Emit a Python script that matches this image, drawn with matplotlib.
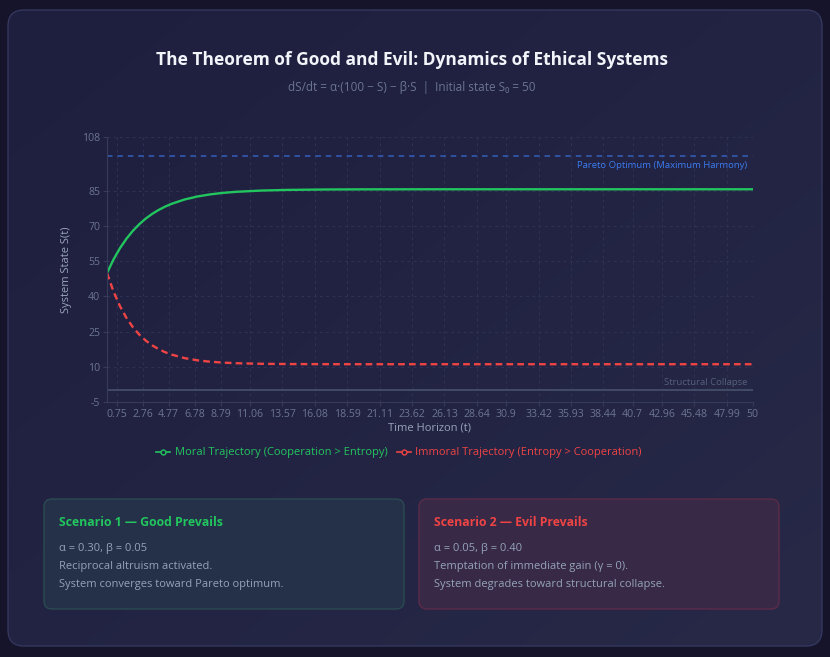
import matplotlib.pyplot as plt
import numpy as np
from matplotlib.patches import FancyBboxPatch
from matplotlib.lines import Line2D

# Valores (t, S(t))
tempo = [0, 0.5, 1, 1.5, 2, 2.5, 3, 3.5, 4, 4.5, 5, 6, 7, 8, 9, 10, 12, 14, 17, 20, 25, 30, 40, 50]
moral = [50.0, 55.73, 60.55, 64.58, 67.98, 70.82, 73.22, 75.22, 76.90, 78.32, 79.50, 81.34,
         82.63, 83.54, 84.18, 84.63, 85.17, 85.44, 85.62, 85.68, 85.71, 85.71, 85.71, 85.71]
imoral = [50.0, 42.16, 35.91, 30.91, 26.92, 23.74, 21.19, 19.16, 17.54, 16.24, 15.21, 13.72,
          12.78, 12.17, 11.79, 11.54, 11.29, 11.18, 11.13, 11.11, 11.11, 11.11, 11.11, 11.11]

x_ticks = [0.75, 2.76, 4.77, 6.78, 8.79, 11.06, 13.57, 16.08, 18.59, 21.11, 23.62, 26.13,
           28.64, 30.9, 33.42, 35.93, 38.44, 40.7, 42.96, 45.48, 47.99, 50]
y_ticks = [-5, 10, 25, 40, 55, 70, 85, 108]
pareto = 100
colapso = 0

W, H = 830, 657
plt.rcParams['font.family'] = ['Open Sans', 'DejaVu Sans']
plt.rcParams['lines.scale_dashes'] = False
plt.rcParams['axes.unicode_minus'] = False

fig = plt.figure(figsize=(W / 100, H / 100), dpi=100)
fig.patch.set_facecolor('#15142b')

# fundo em coordenadas de pixel
bg = fig.add_axes([0, 0, 1, 1], zorder=0)
bg.set_xlim(0, W)
bg.set_ylim(H, 0)
bg.axis('off')

card = FancyBboxPatch((8, 10), 814, 636, boxstyle='round,pad=0,rounding_size=16',
                      facecolor='none', edgecolor='#34375c', lw=1.0, zorder=2)
bg.add_patch(card)
grad = np.linspace(0, 1, 64)
g = (grad[None, :] + grad[:, None]) / 2
c0 = np.array([0x1e, 0x1e, 0x3f]) / 255
c1 = np.array([0x27, 0x29, 0x47]) / 255
img = c0 + (c1 - c0) * g[..., None]
im = bg.imshow(img, extent=[8, 822, 646, 10], aspect='auto', zorder=1, interpolation='bilinear')
im.set_clip_path(card)

for (x0, fc, ec) in [(44, '#243149', '#2a4b52'), (419, '#382946', '#5b2b49')]:
    bg.add_patch(FancyBboxPatch((x0, 499), 360, 110, boxstyle='round,pad=0,rounding_size=8',
                                facecolor=fc, edgecolor=ec, lw=1.0, zorder=3))

bg.text(412, 60, 'The Theorem of Good and Evil: Dynamics of Ethical Systems', color='#f1f5f9',
        fontsize=12.5, fontweight='bold', ha='center', va='center', zorder=4)
bg.text(412, 87, 'dS/dt = α·(100 − S) − β·S  |  Initial state S₀ = 50', color='#6b7592',
        fontsize=8.5, ha='center', va='center', zorder=4)

bg.text(59, 523, 'Scenario 1 — Good Prevails', color='#22c55e', fontsize=8.8, fontweight='bold',
        va='center', zorder=4)
bg.text(434, 523, 'Scenario 2 — Evil Prevails', color='#ef4444', fontsize=8.8, fontweight='bold',
        va='center', zorder=4)
for i, (a, b) in enumerate(zip(
        ['α = 0.30, β = 0.05', 'Reciprocal altruism activated.', 'System converges toward Pareto optimum.'],
        ['α = 0.05, β = 0.40', 'Temptation of immediate gain (γ = 0).', 'System degrades toward structural collapse.'])):
    bg.text(59, 549 + 18 * i, a, color='#94a3b8', fontsize=8, va='center', zorder=4)
    bg.text(434, 549 + 18 * i, b, color='#94a3b8', fontsize=8, va='center', zorder=4)

# gráfico principal
ax = fig.add_axes([107 / W, 1 - 402 / H, (752.7 - 107) / W, (402 - 137) / H], zorder=5)
ax.set_facecolor('none')
ax.set_xlim(0, 50)
ax.set_ylim(-5, 108)

ax.axhline(pareto, color='#3566c8', lw=1.1, dashes=(4, 3.5), alpha=0.9)
ax.axhline(colapso, color='#4a5570', lw=1.1)
ax.plot(tempo, moral, color='#22c55e', lw=1.7, solid_capstyle='round')
ax.plot(tempo, imoral, color='#ef4444', lw=1.7, dashes=(4.8, 3))

ax.text(49.6, 96.0, 'Pareto Optimum (Maximum Harmony)', color='#3b7cf0', fontsize=6.8,
        ha='right', va='center')
ax.text(49.6, 3.4, 'Structural Collapse', color='#56607a', fontsize=6.8, ha='right', va='center')

ax.set_xticks(x_ticks)
ax.set_xticklabels([f'{v:g}' for v in x_ticks])
ax.set_yticks(y_ticks)
ax.grid(True, color='#2e3256', lw=0.7, dashes=(2, 2.5))
for s in ['top', 'right']:
    ax.spines[s].set_visible(False)
for s in ['left', 'bottom']:
    ax.spines[s].set_color('#363b5a')
ax.tick_params(colors='#363b5a', labelcolor='#6b7592', labelsize=7.6, length=3, pad=2)
ax.set_xlabel('Time Horizon (t)', color='#9aa3b8', fontsize=8, labelpad=2)
ax.set_ylabel('System State S(t)', color='#9aa3b8', fontsize=8, labelpad=7)

handles = [Line2D([], [], color='#22c55e', lw=1.2, marker='o', ms=3.5, mfc='#20203f', mew=1),
           Line2D([], [], color='#ef4444', lw=1.2, marker='o', ms=3.5, mfc='#20203f', mew=1)]
leg = fig.legend(handles, ['Moral Trajectory (Cooperation > Entropy)', 'Immoral Trajectory (Entropy > Cooperation)'],
                 loc='center', bbox_to_anchor=(399 / W, 1 - 453 / H), ncol=2, frameon=False,
                 fontsize=8, handlelength=1.3, handletextpad=0.4, columnspacing=0.8)
for txt, c in zip(leg.get_texts(), ['#22c55e', '#ef4444']):
    txt.set_color(c)

fig.savefig('out.png', dpi=100, facecolor=fig.get_facecolor())
